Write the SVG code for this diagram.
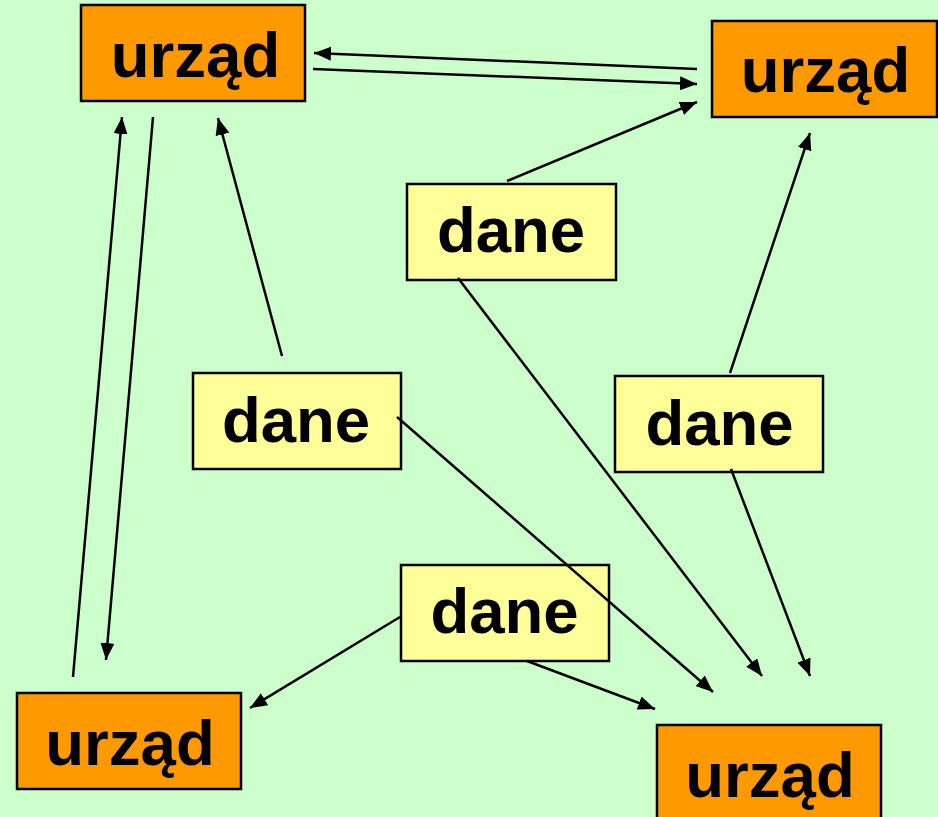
<svg xmlns="http://www.w3.org/2000/svg" width="938" height="817" viewBox="0 0 938 817">
<style>
.u{fill:#FF9900;stroke:#000;stroke-width:2.5}
.d{fill:#FFFF99;stroke:#000;stroke-width:2.5}
text{font-family:"Liberation Sans",Arial,sans-serif;font-weight:bold;font-size:63.5px;fill:#000;text-anchor:middle}
.c line{stroke:#000;stroke-width:2.5;marker-end:url(#ah)}
</style>
<defs>
<marker id="ah" viewBox="0 0 17 14" refX="17" refY="7" markerWidth="17" markerHeight="14" markerUnits="userSpaceOnUse" orient="auto">
<path d="M0,0 L17,7 L0,14 z" fill="#000"/>
</marker>
</defs>
<rect width="938" height="817" fill="#CCFFCC"/>
<g id="urzad-tl"><rect class="u" x="81" y="5" width="224" height="96"/><text x="195.5" y="77">urząd</text></g>
<g id="urzad-tr"><rect class="u" x="712" y="21" width="225" height="96"/><text x="825.5" y="92">urząd</text></g>
<g id="urzad-bl"><rect class="u" x="17" y="693" width="224" height="96"/><text x="130" y="765">urząd</text></g>
<g id="urzad-br"><rect class="u" x="657" y="725" width="224" height="96"/><text x="770" y="797">urząd</text></g>
<g id="dane-top"><rect class="d" x="407" y="184" width="209" height="96"/><text x="511" y="252">dane</text></g>
<g id="dane-left"><rect class="d" x="193" y="373" width="208" height="96"/><text x="296" y="442">dane</text></g>
<g id="dane-right"><rect class="d" x="615" y="376" width="208" height="96"/><text x="719.5" y="445">dane</text></g>
<g id="dane-bottom"><rect class="d" x="401" y="565" width="208" height="96"/><text x="504.5" y="633">dane</text></g>
<g id="connectors" class="c">
<line x1="697" y1="69" x2="314" y2="53"/>
<line x1="313" y1="69" x2="697" y2="84"/>
<line x1="507" y1="181" x2="697" y2="102"/>
<line x1="282" y1="356" x2="218" y2="118"/>
<line x1="73" y1="677" x2="122" y2="117"/>
<line x1="153" y1="117" x2="106" y2="660"/>
<line x1="730" y1="373" x2="810" y2="133"/>
<line x1="458" y1="278" x2="762" y2="676"/>
<line x1="397" y1="417" x2="713" y2="692"/>
<line x1="731" y1="469" x2="810" y2="676"/>
<line x1="400" y1="617" x2="250" y2="708"/>
<line x1="527" y1="661" x2="655" y2="709"/>
</g>
</svg>
